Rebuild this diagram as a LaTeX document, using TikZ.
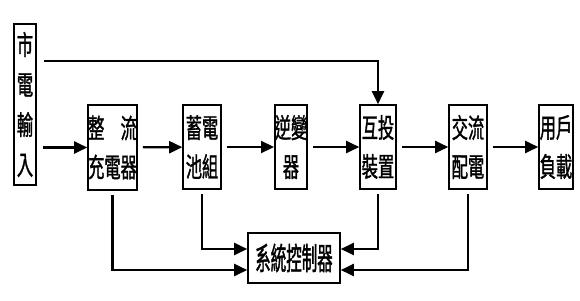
\documentclass[tikz,border=0pt]{standalone}
\usepackage{fontspec}
\newfontfamily\cjk[FakeStretch=0.6, FakeBold=1.2]{Noto Sans CJK TC}
\newfontfamily\cjknarrow[FakeStretch=0.5, FakeBold=1.2]{Noto Sans CJK TC}
\usetikzlibrary{arrows.meta}

\begin{document}
\begin{tikzpicture}[x=1pt, y=-1pt,
    blk/.style={draw, line width=1.6pt, inner sep=0pt, align=center,
        font=\cjk\fontsize{27}{39}\selectfont},
    arr/.style={line width=2.2pt, -{Triangle[length=13pt,width=12pt]}}
]
\useasboundingbox (0,0) rectangle (580,300);

% input box, tall and narrow
\node[blk, minimum width=22pt, minimum height=161pt,
      font=\cjk\fontsize{27}{40}\selectfont] (in) at (25,104.5) {市\\電\\輸\\入};

% main row of blocks
\node[blk, minimum width=49pt, minimum height=85pt] (rect) at (112.5,147.5) {整　流\\充電器};
\node[blk, minimum width=38pt, minimum height=84pt] (bat) at (202,147) {蓄電\\池組};
\node[blk, minimum width=32pt, minimum height=84pt] (inv) at (291,147) {逆變\\器};
\node[blk, minimum width=36pt, minimum height=84pt] (ats) at (378,147) {互投\\裝置};
\node[blk, minimum width=38pt, minimum height=84pt] (acd) at (468,147) {交流\\配電};
\node[blk, minimum width=34pt, minimum height=84pt] (load) at (556,147) {用戶\\負載};

% controller
\node[blk, minimum width=92pt, minimum height=50pt,
      font=\cjknarrow\fontsize{31}{36}\selectfont] (ctrl) at (294,258) {系統控制器};

% arrows along the main row
\draw[arr, shorten <=6pt] (in.east |- rect.west) -- (rect.west);
\foreach \a/\b in {rect/bat, bat/inv, inv/ats, ats/acd, acd/load}{
    \draw[arr, shorten <=5pt] (\a) -- (\b);
}

% bypass line from the mains
\coordinate (tap) at (44,61);
\draw[arr] (tap) -| (ats.north);

% lines down to the controller
\draw[arr, shorten <=4pt] (rect.south) |- ([yshift=-12pt]ctrl.west);
\draw[arr, shorten <=4pt] (bat.south) |- ([yshift=9pt]ctrl.west);
\draw[arr, shorten <=4pt] (ats.south) |- ([yshift=9pt]ctrl.east);
\draw[arr, shorten <=4pt] (acd.south) |- ([yshift=-12pt]ctrl.east);

\end{tikzpicture}
\end{document}
